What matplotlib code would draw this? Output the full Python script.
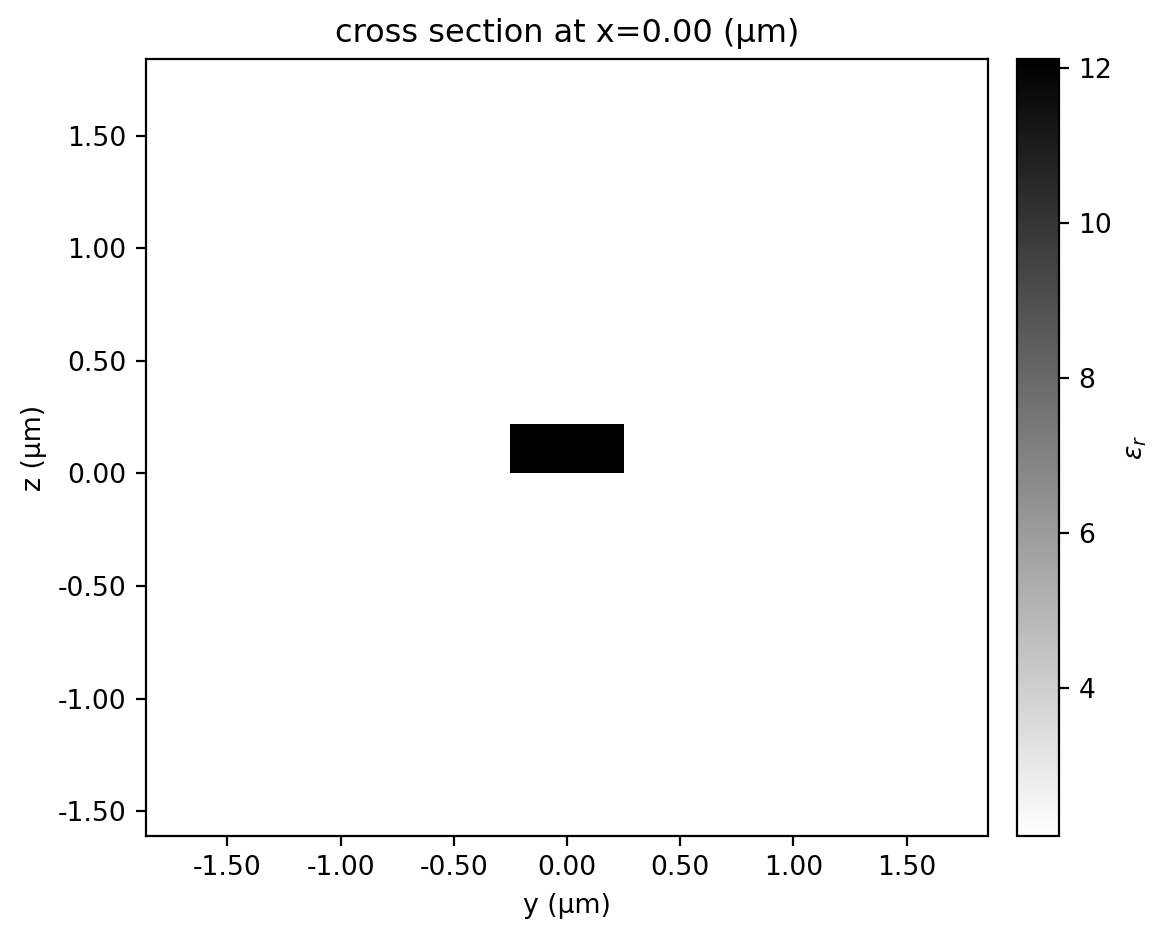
import numpy as np
import matplotlib
matplotlib.use("Agg")
import matplotlib.pyplot as plt
from matplotlib.ticker import FormatStrFormatter

# simulation window (um)
y_span = [-1.86, 1.86]
z_span = [-1.61, 1.84]

# media permittivities
eps_background = 2.085
eps_core = 12.11

# waveguide core box (um)
core_y = [-0.25, 0.25]
core_z = [0.0, 0.22]

y_edges = np.array([y_span[0], core_y[0], core_y[1], y_span[1]])
z_edges = np.array([z_span[0], core_z[0], core_z[1], z_span[1]])
eps = np.full((3, 3), eps_background)
eps[1, 1] = eps_core

plt.rcParams["axes.unicode_minus"] = False
plt.rcParams["font.size"] = 9.6

fig = plt.figure(figsize=(5.84, 4.70), dpi=200)
ax = fig.add_axes([0.125, 0.1106, 0.7209, 0.8266])
cax = fig.add_axes([0.8707, 0.1106, 0.036, 0.8266])

mesh = ax.pcolormesh(y_edges, z_edges, eps, cmap="gist_yarg",
                     vmin=eps_background, vmax=eps_core, shading="flat")
ax.set_xlim(y_span)
ax.set_ylim(z_span)
ax.set_aspect("auto")
ax.set_xticks([-1.5, -1.0, -0.5, 0.0, 0.5, 1.0, 1.5])
ax.set_yticks([-1.5, -1.0, -0.5, 0.0, 0.5, 1.0, 1.5])
ax.xaxis.set_major_formatter(FormatStrFormatter("%.2f"))
ax.yaxis.set_major_formatter(FormatStrFormatter("%.2f"))
ax.set_xlabel("y (μm)")
ax.set_ylabel("z (μm)")
ax.set_title("cross section at x=0.00 (μm)")

cb = fig.colorbar(mesh, cax=cax)
cb.set_ticks([4, 6, 8, 10, 12])
cb.set_label(r"$\epsilon_r$")

fig.savefig("out.png", dpi=200)
